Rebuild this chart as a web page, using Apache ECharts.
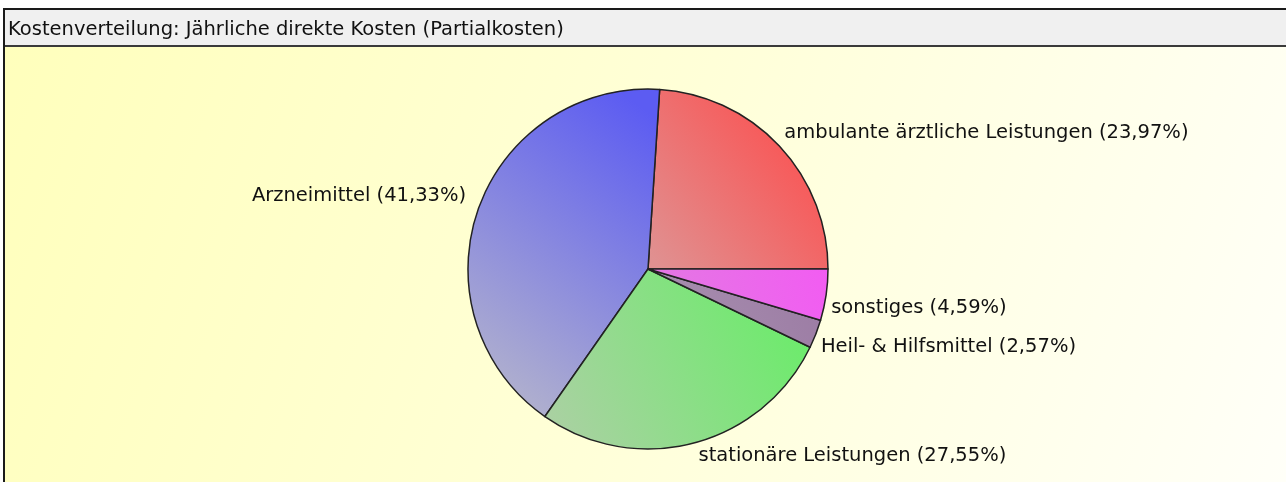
<!DOCTYPE html>
<html>
<head>
<meta charset="utf-8">
<script src="https://cdn.jsdelivr.net/npm/echarts@6/dist/echarts.min.js"></script>
<style>
html,body{margin:0;padding:0;background:#fff;}
#chart{width:1286px;height:482px;}
</style>
</head>
<body>
<div id="chart"></div>
<script>
const titleText = 'Kostenverteilung: Jährliche direkte Kosten (Partialkosten)';
const categories = ['ambulante ärztliche Leistungen', 'Arzneimittel', 'stationäre Leistungen', 'Heil- & Hilfsmittel', 'sonstiges'];
const values = [23.97, 41.33, 27.55, 2.57, 4.59];

const vividColors = ['#ff4848', '#5c5cf2', '#66ee66', '#9c7ca4', '#f25cf2'];
const paleColors  = ['#e09090', '#b4b4cc', '#acd0a4', '#a890b0', '#e27ae2'];

const total = values.reduce((a, b) => a + b, 0);
const midAngles = [];
let acc = 0;
values.forEach(v => { midAngles.push((acc + v / 2) / total * 2 * Math.PI); acc += v; });

function fmt(v) { return v.toFixed(2).replace('.', ','); }

const chart = echarts.init(document.getElementById('chart'), null, {renderer: 'canvas'});
const option = {
  animation: false,
  title: {
    text: titleText,
    left: 3, top: 15,
    textStyle: {fontFamily: 'DejaVu Sans', fontSize: 19.5, fontWeight: 'normal', color: '#111'}
  },
  graphic: [
    {type: 'rect', z: -10, shape: {x: 3, y: 47, width: 1283, height: 435},
      style: {fill: {type: 'linear', x: 0, y: 0, x2: 1, y2: 1, colorStops: [
        {offset: 0, color: '#ffffbc'}, {offset: 0.5, color: '#ffffd8'}, {offset: 1, color: '#fffff8'}]}}},
    {type: 'rect', z: -10, shape: {x: 3, y: 10, width: 1283, height: 35}, style: {fill: '#f0f0f0'}},
    {type: 'rect', z: -9, shape: {x: 3, y: 8, width: 1283, height: 2}, style: {fill: '#1a1a1a'}},
    {type: 'rect', z: -9, shape: {x: 3, y: 45, width: 1283, height: 2}, style: {fill: '#3a3a3a'}},
    {type: 'rect', z: -9, shape: {x: 3, y: 8, width: 2, height: 474}, style: {fill: '#1a1a1a'}}
  ],
  series: [{
    type: 'pie',
    center: [648, 269],
    radius: 180,
    startAngle: 0,
    clockwise: false,
    avoidLabelOverlap: false,
    silent: true,
    itemStyle: {borderColor: '#222', borderWidth: 1.5},
    label: {
      show: true, position: 'outside',
      fontFamily: 'DejaVu Sans', fontSize: 19.5, color: '#111',
      formatter: p => p.name + ' (' + fmt(p.value) + '%)'
    },
    labelLine: {show: false, length: 0, length2: 0},
    labelLayout: function (params) {
      const a = midAngles[params.dataIndex];
      return {dy: Math.sin(a) > 0 ? -13 : 13, dx: Math.cos(a) < 0 ? -7 : 0};
    },
    data: categories.map((c, i) => ({
      name: c, value: values[i],
      itemStyle: {color: {type: 'linear', x: 1, y: 0.1, x2: 0, y2: 0.9, colorStops: [
        {offset: 0, color: vividColors[i]}, {offset: 1, color: paleColors[i]}]}}
    }))
  }]
};
chart.setOption(option);
</script>
</body>
</html>
